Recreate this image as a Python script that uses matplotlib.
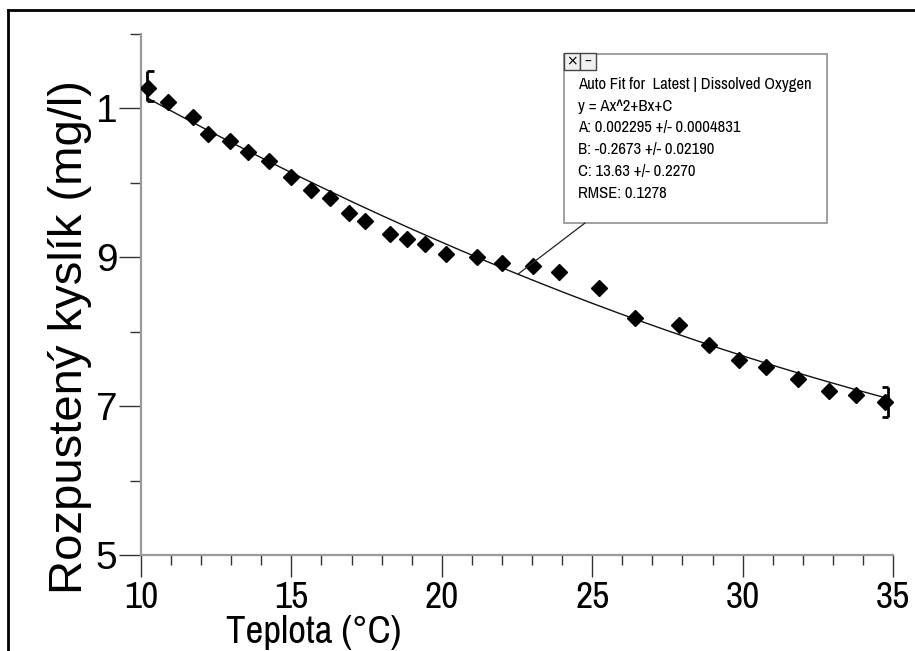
import numpy as np
import matplotlib.pyplot as plt
from matplotlib.lines import Line2D
from matplotlib.patches import Rectangle

# namerane hodnoty (odcitane z grafu)
teplota = [10.23, 10.9, 11.73, 12.23, 12.96, 13.56, 14.26, 14.99, 15.65, 16.28,
           16.92, 17.45, 18.28, 18.84, 19.44, 20.14, 21.17, 22.0, 23.03, 23.9,
           25.23, 26.42, 27.89, 28.88, 29.88, 30.78, 31.84, 32.87, 33.77, 34.73]
kyslik = [11.28, 11.08, 10.88, 10.65, 10.56, 10.41, 10.29, 10.08, 9.90, 9.79,
          9.59, 9.49, 9.31, 9.24, 9.18, 9.05, 9.01, 8.92, 8.88, 8.80,
          8.59, 8.18, 8.09, 7.82, 7.62, 7.52, 7.36, 7.20, 7.15, 7.06]

# koeficienty fitu y = Ax^2+Bx+C
fit_A, fit_B, fit_C = 0.002295, -0.2673, 13.63
fit_text = ["Auto Fit for  Latest | Dissolved Oxygen",
            "y = Ax^2+Bx+C",
            "A: 0.002295 +/- 0.0004831",
            "B: -0.2673 +/- 0.02190",
            "C: 13.63 +/- 0.2270",
            "RMSE: 0.1278"]

# zavorky na koncich rozsahu
brk_x = [10.2, 34.85]
brk_y = [11.30, 7.06]
brk_half = 0.2
brk_side = [1, -1]

xticks_major = [10, 15, 20, 25, 30, 35]
yticks_major = [5, 7, 9, 11]
ytick_labels = ["5", "7", "9", "1"]

narrow = ['Archivo Narrow', 'Liberation Sans', 'DejaVu Sans']
normal = ['Liberation Sans', 'DejaVu Sans']

def fit(x):
    return fit_A * np.asarray(x)**2 + fit_B * np.asarray(x) + fit_C

fig = plt.figure(figsize=(9.15, 6.51), dpi=100)
ax = fig.add_axes([141/915, 1-555/651, 752/915, 521/651])

xx = np.linspace(teplota[0], teplota[-1] + 0.15, 200)
ax.plot(xx, fit(xx), color='#111111', lw=1.0, zorder=2)
ax.plot(teplota, kyslik, 'D', color='black', ms=8.3, zorder=3)

for bx, by, s in zip(brk_x, brk_y, brk_side):
    ax.vlines(bx, by - brk_half, by + brk_half, color='black', lw=2)
    ax.hlines([by - brk_half, by + brk_half], bx, bx + s * 0.22, color='black', lw=2)

ax.set_xlim(10, 35)
ax.set_ylim(5, 12)
ax.set_xticks(xticks_major)
ax.set_xticks(np.arange(10, 36, 1), minor=True)
ax.set_yticks(yticks_major)
ax.set_yticklabels(ytick_labels)
ax.set_yticks(np.arange(5, 13, 1), minor=True)

for s in ['top', 'right']:
    ax.spines[s].set_visible(False)
for s in ['left', 'bottom']:
    ax.spines[s].set_color('#9a9a9a')
    ax.spines[s].set_linewidth(1.6)

ax.tick_params(axis='x', which='major', length=16, width=1, color='#333333', pad=3)
ax.tick_params(axis='x', which='minor', length=7, width=1, color='#333333')
ax.tick_params(axis='y', which='major', length=16, width=1, color='#333333', pad=1)
ax.tick_params(axis='y', which='minor', length=8, width=1, color='#333333')
for lab in ax.get_xticklabels():
    lab.set_fontfamily(narrow)
    lab.set_fontsize(27)
for lab in ax.get_yticklabels():
    lab.set_fontfamily(normal)
    lab.set_fontsize(28)

# popisky os
fig.text(314/915, 1-643/651, "Teplota (°C)", family=narrow,
         fontsize=28, ha='center', va='baseline')
fig.text(70/915, 1-337/651, "Rozpustený kyslík (mg/l)", family=normal,
         fontsize=34, rotation=90, ha='center', va='center')

# okno s vysledkem fitu
bx0, bx1 = (564-141)/752, (827-141)/752
by0, by1 = (555-223)/521, (555-54)/521
ax.add_patch(Rectangle((bx0, by0), bx1-bx0, by1-by0, transform=ax.transAxes,
                       facecolor='white', edgecolor='#a0a0a0', lw=1.4, zorder=4))
bw = 16/752
bh = 17/521
for i, sym in enumerate(["×", "–"]):
    ax.add_patch(Rectangle((bx0 + i*bw, by1 - bh + 0.002), bw, bh, transform=ax.transAxes,
                           facecolor='#f0f0f0', edgecolor='#444444', lw=1, zorder=5))
    ax.text(bx0 + (i+0.5)*bw, by1 - bh/2 + 0.002, sym, transform=ax.transAxes,
            ha='center', va='center', fontsize=10, zorder=6)
ax.text((578-141)/752, (555-77)/521, "\n".join(fit_text), transform=ax.transAxes,
        family=narrow, fontsize=12, va='top', ha='left',
        linespacing=1.56, zorder=6)

x_arrow = 22.53
ax.annotate("", xy=(x_arrow, fit(x_arrow)), xycoords='data',
            xytext=((585-141)/752, by0), textcoords='axes fraction',
            arrowprops=dict(arrowstyle='-', color='#222222', lw=0.9, shrinkA=0, shrinkB=0),
            zorder=4)

# ram okna
fig.add_artist(Line2D([8/915, 8/915], [0, 1-10/651], color='black', lw=2))
fig.add_artist(Line2D([8/915, 1], [1-10/651, 1-10/651], color='black', lw=2))

fig.savefig("out.png", dpi=100)
